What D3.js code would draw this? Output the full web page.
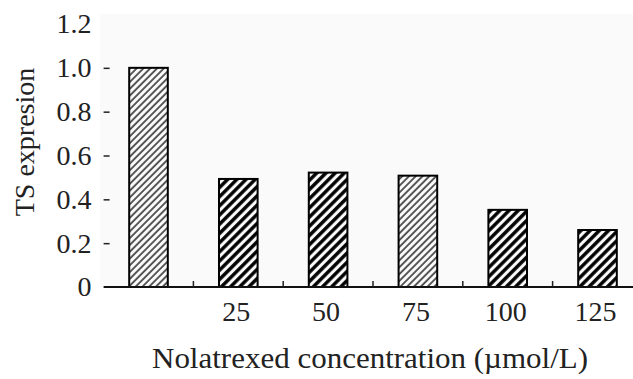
<!DOCTYPE html>
<html>
<head>
<meta charset="utf-8">
<script src="https://cdn.jsdelivr.net/npm/d3@7"></script>
<style>
  body { margin: 0; background: #fff; }
  text { font-family: "Liberation Serif", "Times New Roman", serif; fill: #222; }
</style>
</head>
<body>
<svg id="chart" width="633" height="379"></svg>
<script>
// data
const categories = ["0", "25", "50", "75", "100", "125"];
const tickLabels = ["", "25", "50", "75", "100", "125"];
const values = [1.0, 0.493, 0.522, 0.508, 0.352, 0.26];
const hatch = ["light", "dark", "dark", "light", "dark", "dark"];
const yTicks = [0, 0.2, 0.4, 0.6, 0.8, 1.0, 1.2];

const svg = d3.select("#chart");
const margin = {left: 103.6, top: 24, bottom: 287};

const x = d3.scaleBand()
  .domain(categories)
  .range([margin.left, margin.left + 6 * 89.8])
  .padding(0);

const y = d3.scaleLinear()
  .domain([0, 1.2])
  .range([margin.bottom, margin.top]);

// hatch patterns
const defs = svg.append("defs");
defs.append("pattern")
  .attr("id", "light")
  .attr("patternUnits", "userSpaceOnUse")
  .attr("width", 4.8).attr("height", 10)
  .attr("patternTransform", "rotate(45)")
  .append("line")
  .attr("x1", 1).attr("x2", 1).attr("y1", 0).attr("y2", 10)
  .attr("stroke", "#333").attr("stroke-width", 1.6);

defs.append("pattern")
  .attr("id", "dark")
  .attr("patternUnits", "userSpaceOnUse")
  .attr("width", 6.5).attr("height", 10)
  .attr("patternTransform", "rotate(45)")
  .append("line")
  .attr("x1", 1.8).attr("x2", 1.8).attr("y1", 0).attr("y2", 10)
  .attr("stroke", "#000").attr("stroke-width", 3.4);

// faint plot background
svg.append("rect")
  .attr("x", 100).attr("y", 14)
  .attr("width", 633 - 100).attr("height", margin.bottom - 14)
  .attr("fill", "#fafafa");

// y axis: tick marks + labels, no line
const yAxis = svg.append("g").attr("class", "axis")
  .attr("transform", "translate(" + (margin.left + 6) + ",0)")
  .call(d3.axisLeft(y).tickValues(yTicks).tickSize(6).tickPadding(12)
    .tickFormat(d => d === 0 ? "0" : d3.format(".1f")(d)));
yAxis.select(".domain").remove();
yAxis.selectAll(".tick line").attr("stroke", "#222").attr("stroke-width", 1.5);
yAxis.selectAll(".tick line").filter(d => d === 0 || d === 1.2).remove();
yAxis.selectAll("text")
  .style("font-family", "Liberation Serif, serif")
  .style("font-size", "28px")
  .attr("fill", "#222");

// bars
const bw = x.bandwidth() * 0.43;
svg.append("g").selectAll("rect")
  .data(categories)
  .enter().append("rect")
  .attr("x", (d, i) => x(d) + x.bandwidth() / 2 - bw / 2)
  .attr("y", (d, i) => y(values[i]))
  .attr("width", bw)
  .attr("height", (d, i) => y(0) - y(values[i]))
  .attr("fill", (d, i) => "url(#" + hatch[i] + ")")
  .attr("stroke", "#000")
  .attr("stroke-width", 2);

// x axis baseline with small inward ticks between groups
svg.append("line")
  .attr("x1", margin.left).attr("x2", 633)
  .attr("y1", y(0)).attr("y2", y(0))
  .attr("stroke", "#111").attr("stroke-width", 2.2);

svg.append("g").selectAll("line")
  .data(categories.slice(1))
  .enter().append("line")
  .attr("x1", d => x(d)).attr("x2", d => x(d))
  .attr("y1", y(0)).attr("y2", y(0) - 6)
  .attr("stroke", "#222").attr("stroke-width", 1.5);

svg.append("g").selectAll("text")
  .data(categories)
  .enter().append("text")
  .attr("x", d => x(d) + x.bandwidth() / 2 - 2)
  .attr("y", 321)
  .attr("text-anchor", "middle")
  .style("font-size", "28px")
  .text((d, i) => tickLabels[i]);

// axis titles
svg.append("text")
  .attr("x", 152)
  .attr("y", 368)
  .attr("textLength", 436)
  .attr("lengthAdjust", "spacingAndGlyphs")
  .style("font-size", "29px")
  .text("Nolatrexed concentration (\u00b5mol/L)");

svg.append("text")
  .attr("transform", "translate(34,142) rotate(-90)")
  .attr("text-anchor", "middle")
  .style("font-size", "28px")
  .text("TS expresion");
</script>
</body>
</html>
